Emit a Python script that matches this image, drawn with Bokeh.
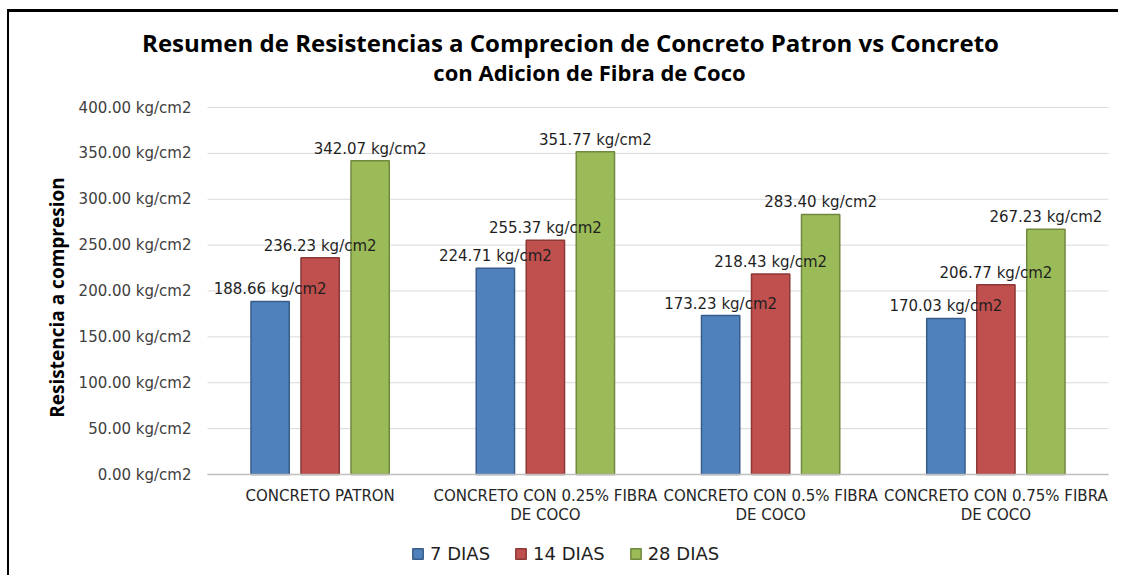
import math
from bokeh.plotting import figure
from bokeh.models import ColumnDataSource, Range1d, Legend, LegendItem, Label
from bokeh.core.properties import value
from bokeh.transform import dodge
from bokeh.embed import file_html
from bokeh.resources import INLINE

categories = ["CONCRETO PATRON",
              "CONCRETO CON 0.25% FIBRA\nDE COCO",
              "CONCRETO CON 0.5% FIBRA\nDE COCO",
              "CONCRETO CON 0.75% FIBRA\nDE COCO"]
series_names = ["7 DIAS", "14 DIAS", "28 DIAS"]
dias7 = [188.66, 224.71, 173.23, 170.03]
dias14 = [236.23, 255.37, 218.43, 206.77]
dias28 = [342.07, 351.77, 283.40, 267.23]
y_ticks = [0, 50, 100, 150, 200, 250, 300, 350, 400]
y_tick_labels = [f"{t:.2f} kg/cm2" for t in y_ticks]

title_line1 = "Resumen de Resistencias a Comprecion de Concreto Patron vs Concreto"
title_line2 = "con Adicion de Fibra de Coco"
y_label = "Resistencia a compresion"

fills = ["#4F81BD", "#C0504D", "#9BBB59"]
lines = ["#385D8A", "#8C3836", "#71893F"]
offsets = [-0.222, 0.0, 0.222]

# ---- layout: the frame covers the whole canvas; page pixel positions below ----
CANVAS_LEFT, CANVAS_TOP = 9, 12
CANVAS_W, CANVAS_H = 1109, 563
PLOT_LEFT, PLOT_RIGHT = 207, 1108       # page x of the category area
PLOT_BOTTOM, PLOT_TOP = 474, 107        # page y of value 0 and value 400
XPX = (PLOT_RIGHT - PLOT_LEFT) / len(categories)
YPX = (PLOT_BOTTOM - PLOT_TOP) / 400.0


def xd(px):   # page column -> data x
    return (px - PLOT_LEFT) / XPX


def yd(py):   # page row -> data y
    return (PLOT_BOTTOM - py) / YPX


x_range = Range1d(xd(CANVAS_LEFT), xd(CANVAS_LEFT + CANVAS_W))
y_range = Range1d(yd(CANVAS_TOP + CANVAS_H), yd(CANVAS_TOP))

src = ColumnDataSource(dict(
    cat=categories,
    xc=[i + 0.5 for i in range(len(categories))],
    base=[0] * len(categories),
    d7=dias7, d14=dias14, d28=dias28,
    l7=[f"{v:.2f} kg/cm2" for v in dias7],
    l14=[f"{v:.2f} kg/cm2" for v in dias14],
    l28=[f"{v:.2f} kg/cm2" for v in dias28],
))

p = figure(x_range=x_range, y_range=y_range,
           frame_width=CANVAS_W, frame_height=CANVAS_H,
           x_axis_location=None, y_axis_location=None,
           min_border_left=0, min_border_right=0, min_border_top=0, min_border_bottom=0,
           output_backend="svg", toolbar_location=None, background_fill_color="white",
           border_fill_color="white")
p.styles = {"margin-left": "7px", "margin-top": "9px",
            "border-left": "2px solid black", "border-top": "3px solid black"}
p.outline_line_color = None
p.grid.visible = False

# value gridlines
p.segment(x0=0, x1=len(categories), y0=y_ticks, y1=y_ticks, line_color="#D9D9D9", line_width=1)
# value tick labels
p.text(x=0, y=y_ticks, text=y_tick_labels, text_align="right", text_baseline="middle",
       x_offset=-16, text_font=value("DejaVu Sans"), text_font_size="15px", text_color="#404040")
# value axis title
p.text(x=xd(56), y=yd(297), text=[y_label], angle=math.pi / 2, text_align="center",
       text_baseline="middle", text_font=value("Open Sans"), text_font_style="bold",
       text_font_size="19px", text_color="black")

renderers = []
for col, fc, lc, off in zip(["d7", "d14", "d28"], fills, lines, offsets):
    r = p.vbar(x=dodge("xc", off), top=col, bottom=0, width=0.17, source=src,
               fill_color=fc, line_color=lc, line_width=1.5)
    renderers.append(r)

# category axis line + labels
p.segment(x0=0, x1=len(categories), y0=0, y1=0, line_color="#BFBFBF", line_width=1.5)
p.text(x="xc", y="base", text="cat", source=src, text_align="center", text_baseline="top",
       y_offset=12, text_line_height=1.1,
       text_font=value("DejaVu Sans"), text_font_size="15px", text_color="#262626")

# data labels
for col, lab, off in zip(["d7", "d14", "d28"], ["l7", "l14", "l28"], offsets):
    p.text(x=dodge("xc", off), y=col, text=lab, source=src,
           text_align="center", text_baseline="alphabetic", y_offset=-12,
           text_font=value("DejaVu Sans"), text_font_size="15px", text_color="#1F1F1F")

# title, two lines
p.add_layout(Label(x=xd(570), y=yd(42), text=title_line1,
                   text_align="center", text_baseline="middle",
                   text_font="Open Sans", text_font_style="bold", text_font_size="24px",
                   text_color="black"))
p.add_layout(Label(x=xd(589), y=yd(71), text=title_line2,
                   text_align="center", text_baseline="middle",
                   text_font="Open Sans", text_font_style="bold", text_font_size="22px",
                   text_color="black"))

legend = Legend(items=[LegendItem(label=n, renderers=[r]) for n, r in zip(series_names, renderers)],
                orientation="horizontal", location=(411 - CANVAS_LEFT, 11),
                glyph_width=13, glyph_height=13, label_standoff=6, spacing=24,
                padding=0, margin=0, border_line_alpha=0, background_fill_alpha=0,
                label_text_font="DejaVu Sans", label_text_font_size="18px",
                label_text_color="#1F1F1F", label_height=22)
p.add_layout(legend)

open("out.html", "w").write(file_html(p, INLINE))
